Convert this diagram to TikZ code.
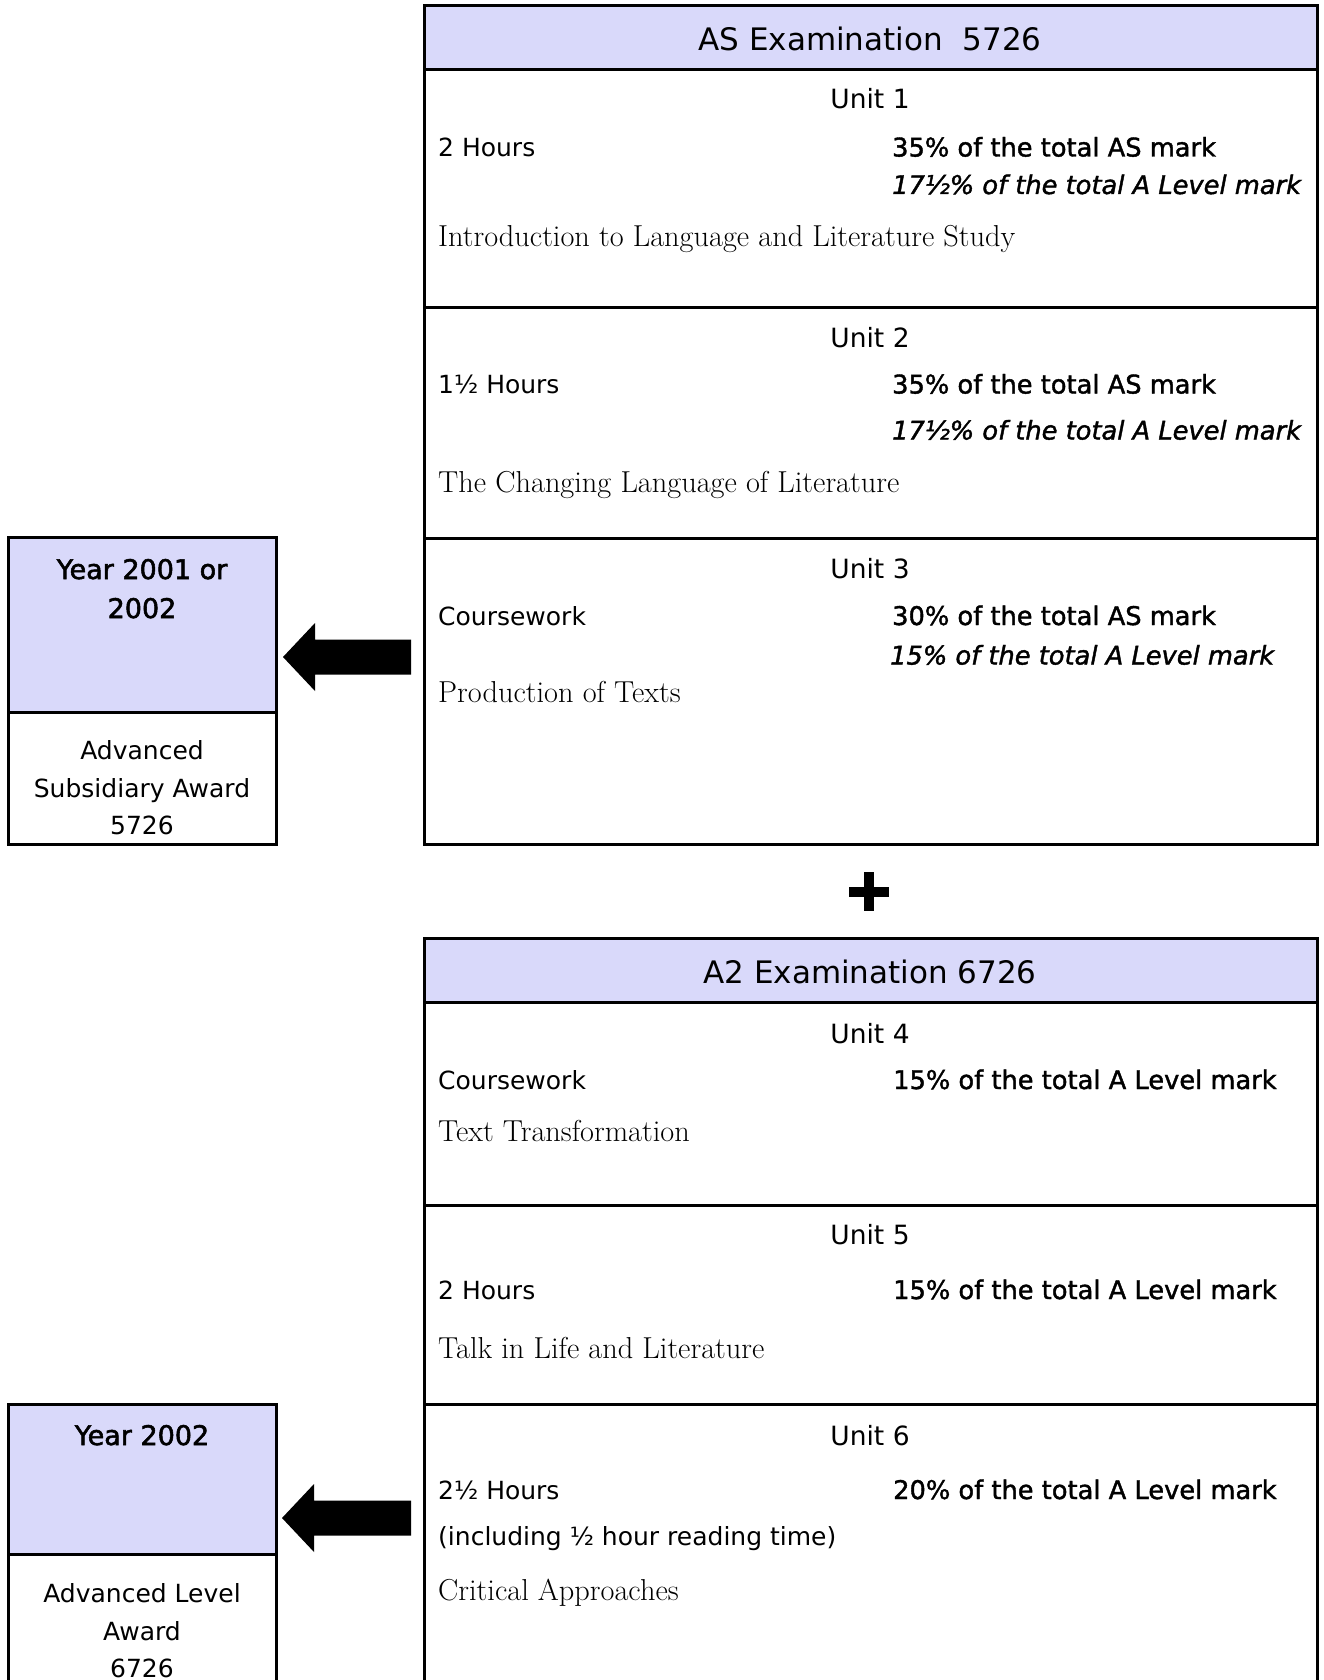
\documentclass[tikz,border=0pt]{standalone}
\usepackage{fontspec}
\setsansfont{DejaVu Sans}
\newfontfamily\demi[FakeBold=1.5]{DejaVu Sans}
\newfontfamily\demiy[FakeBold=2]{DejaVu Sans}
\definecolor{lav}{RGB}{217,217,250}
\begin{document}
\begin{tikzpicture}[x=1pt,y=-1pt,
  frame/.style={line width=3pt},
  hdr/.style={font=\sffamily\fontsize{31}{37}\selectfont, anchor=base},
  unit/.style={font=\sffamily\fontsize{26.5}{30}\selectfont, anchor=base},
  lt/.style={font=\sffamily\fontsize{25}{30}\selectfont, anchor=base west},
  pct/.style={font=\demi\fontsize{25.7}{30}\selectfont, anchor=base west},
  pcti/.style={font=\demi\itshape\fontsize{25.7}{30}\selectfont, anchor=base west},
  ttl/.style={font=\fontsize{30.3}{34}\selectfont, anchor=base west},
  yr/.style={font=\demiy\fontsize{27}{30}\selectfont, anchor=base},
  aw/.style={font=\sffamily\fontsize{25}{30}\selectfont, anchor=base},
  blockarrow/.style={fill=black},
  inner sep=0pt]
\useasboundingbox (0,0) rectangle (1323,1680);
\clip (0,0) rectangle (1323,1680);

% ---------- AS box ----------
\fill[lav] (424,5.5) rectangle (1317.5,69.5);
\draw[frame] (424,5.5) rectangle (1317.5,844);
\draw[frame] (424,69.5) -- (1317.5,69.5);
\draw[frame] (424,307.5) -- (1317.5,307.5);
\draw[frame] (424,538) -- (1317.5,538);

\node[hdr] (ash) at (870,50.5) {AS Examination\ \ 5726};

\node[unit] (u1) at (870,109) {Unit 1};
\node[lt] (u1a) at (438,156.5) {2 Hours};
\node[pct] (u1b) at (892,156.5) {35\% of the total AS mark};
\node[pcti] (u1c) at (892,194) {17½\% of the total A Level mark};
\node[ttl] (u1d) at (438,247) {Introduction to Language and Literature Study};

\node[unit] (u2) at (870,347.5) {Unit 2};
\node[lt] (u2a) at (438,393.5) {1½ Hours};
\node[pct] (u2b) at (892,393.5) {35\% of the total AS mark};
\node[pcti] (u2c) at (892,439.5) {17½\% of the total A Level mark};
\node[ttl] (u2d) at (438,492) {The Changing Language of Literature};

\node[unit] (u3) at (870,578) {Unit 3};
\node[lt] (u3a) at (438,625) {Coursework};
\node[pct] (u3b) at (892,625) {30\% of the total AS mark};
\node[pcti] (u3c) at (890,664.5) {15\% of the total A Level mark};
\node[ttl] (u3d) at (438,702) {Production of Texts};

% ---------- plus ----------
\fill (849,887) rectangle (889,897);
\fill (864,872) rectangle (874,911);

% ---------- A2 box ----------
\fill[lav] (424,938.5) rectangle (1317.5,1002.5);
\draw[frame] (424,1700) -- (424,938.5) -- (1317.5,938.5) -- (1317.5,1700);
\draw[frame] (424,1002.5) -- (1317.5,1002.5);
\draw[frame] (424,1205) -- (1317.5,1205);
\draw[frame] (424,1404) -- (1317.5,1404);

\node[hdr] (a2h) at (870,983) {A2 Examination 6726};

\node[unit] (u4) at (870,1043) {Unit 4};
\node[lt] (u4a) at (438,1089) {Coursework};
\node[pct] (u4b) at (893,1089) {15\% of the total A Level mark};
\node[ttl] (u4d) at (438,1141) {Text Transformation};

\node[unit] (u5) at (870,1244) {Unit 5};
\node[lt] (u5a) at (438,1299) {2 Hours};
\node[pct] (u5b) at (893,1299) {15\% of the total A Level mark};
\node[ttl] (u5d) at (438,1358) {Talk in Life and Literature};

\node[unit] (u6) at (870,1445) {Unit 6};
\node[lt] (u6a) at (438,1499) {2½ Hours};
\node[pct] (u6b) at (893,1499) {20\% of the total A Level mark};
\node[lt] (u6c) at (438,1545) {(including ½ hour reading time)};
\node[ttl] (u6d) at (438,1600) {Critical Approaches};

% ---------- left award boxes ----------
\fill[lav] (8,537.5) rectangle (276,712);
\draw[frame] (8,537.5) rectangle (276,844);
\draw[frame] (8,712) -- (276,712);
\node[yr] (y1a) at (142,579) {Year 2001 or};
\node[yr] (y1b) at (142,618) {2002};
\node[aw] (w1a) at (142,759) {Advanced};
\node[aw] (w1b) at (142,797) {Subsidiary Award};
\node[aw] (w1c) at (142,834) {5726};

\fill[lav] (8,1404) rectangle (276,1554.5);
\draw[frame] (8,1700) -- (8,1404) -- (276,1404) -- (276,1700);
\draw[frame] (8,1554.5) -- (276,1554.5);
\node[yr] (y2a) at (142,1445) {Year 2002};
\node[aw] (w2a) at (142,1602) {Advanced Level};
\node[aw] (w2b) at (142,1640) {Award};
\node[aw] (w2c) at (142,1677) {6726};

% ---------- block arrows ----------
\coordinate (t1) at (283,657);
\coordinate (t2) at (282,1518);
\fill[blockarrow] (t1) -- ++(32,-34) -- ++(0,16.5) -- ++(96,0) -- ++(0,35) -- ++(-96,0) -- ++(0,16.5) -- cycle;
\fill[blockarrow] (t2) -- ++(32,-34) -- ++(0,16.5) -- ++(97,0) -- ++(0,35) -- ++(-97,0) -- ++(0,16.5) -- cycle;
\end{tikzpicture}
\end{document}
